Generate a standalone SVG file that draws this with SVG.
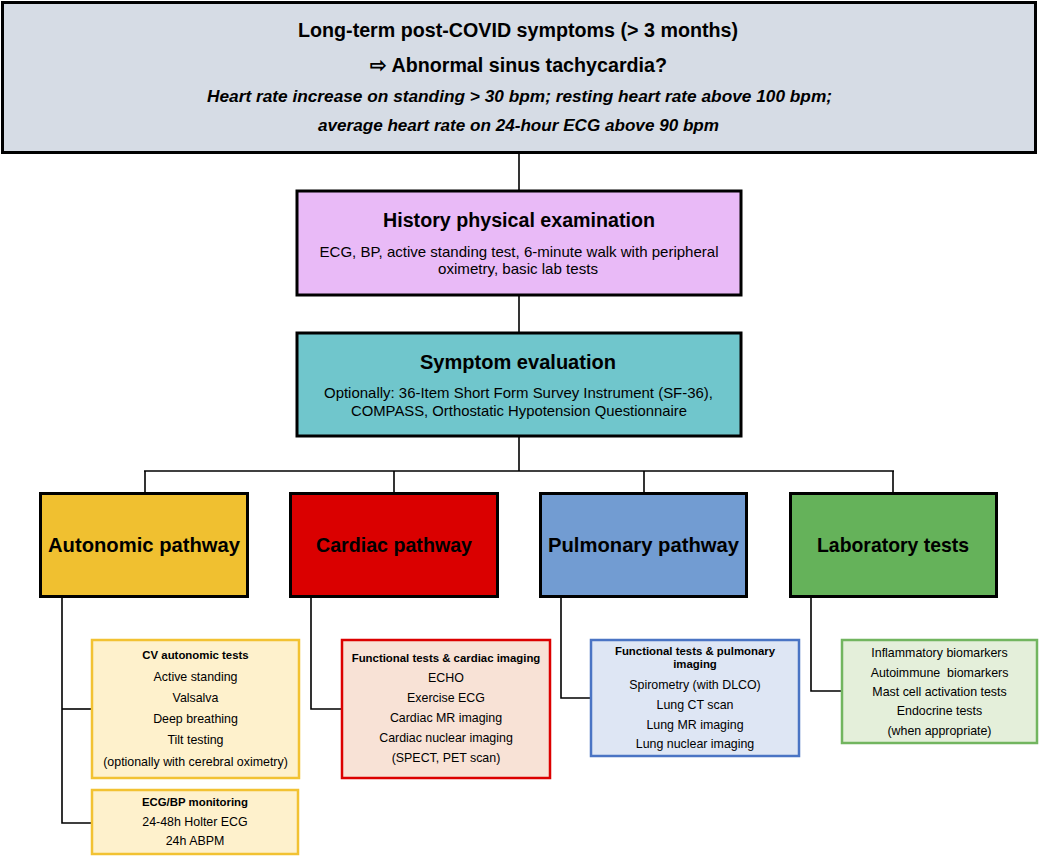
<svg xmlns="http://www.w3.org/2000/svg" width="1050" height="858" viewBox="0 0 1050 858">
<style>
  text { font-family: "Liberation Sans", Arial, sans-serif; fill: #000; text-anchor: middle; }
  .main { stroke: #000; stroke-width: 3; }
  .conn { stroke: #000; stroke-width: 1.6; fill: none; }
  .h1 { font-size: 20px; font-weight: bold; }
  .it { font-size: 17px; font-weight: bold; font-style: italic; }
  .h2 { font-size: 20px; font-weight: bold; }
  .sub { font-size: 15px; }
  .path { font-size: 20.5px; font-weight: bold; }
  .sb { font-size: 11.4px; font-weight: bold; }
  .s { font-size: 12.4px; }
  .small { stroke-width: 2.5; }
</style>
<rect width="1050" height="858" fill="#ffffff"/>
<g id="connectors">
  <line class="conn" x1="519" y1="153" x2="519" y2="191"/>
  <line class="conn" x1="519" y1="295" x2="519" y2="333"/>
  <line class="conn" x1="519" y1="436" x2="519" y2="471"/>
  <line class="conn" x1="144" y1="471" x2="894" y2="471"/>
  <line class="conn" x1="145" y1="471" x2="145" y2="493"/>
  <line class="conn" x1="394" y1="471" x2="394" y2="493"/>
  <line class="conn" x1="644" y1="471" x2="644" y2="493"/>
  <line class="conn" x1="893" y1="471" x2="893" y2="493"/>
  <polyline class="conn" points="62,597 62,823 92,823"/>
  <line class="conn" x1="62" y1="709" x2="92" y2="709"/>
  <polyline class="conn" points="311,597 311,709 342,709"/>
  <polyline class="conn" points="561,597 561,698 591,698"/>
  <polyline class="conn" points="811,597 811,691 842,691"/>
</g>
<g id="top">
  <rect class="main" x="2.5" y="2.5" width="1033" height="150" fill="#d6dce5"/>
  <text class="h1" x="518" y="37" textLength="440" lengthAdjust="spacingAndGlyphs">Long-term post-COVID symptoms (&gt; 3 months)</text>
  <text class="h1" x="518.5" y="72" textLength="297" lengthAdjust="spacingAndGlyphs">⇨ Abnormal sinus tachycardia?</text>
  <text class="it" x="519.5" y="102" textLength="625" lengthAdjust="spacingAndGlyphs">Heart rate increase on standing &gt; 30 bpm; resting heart rate above 100 bpm;</text>
  <text class="it" x="518.5" y="131" textLength="401" lengthAdjust="spacingAndGlyphs">average heart rate on 24-hour ECG above 90 bpm</text>
</g>
<g id="history">
  <rect class="main" x="297" y="191" width="444" height="104" fill="#e9baf7"/>
  <text class="h2" x="519" y="227" textLength="272" lengthAdjust="spacingAndGlyphs">History physical examination</text>
  <text class="sub" x="519" y="257" textLength="399" lengthAdjust="spacingAndGlyphs">ECG, BP, active standing test, 6-minute walk with peripheral</text>
  <text class="sub" x="518" y="274" textLength="160" lengthAdjust="spacingAndGlyphs">oximetry, basic lab tests</text>
</g>
<g id="symptom">
  <rect class="main" x="297" y="333" width="444" height="103" fill="#70c6cc"/>
  <text class="h2" x="518" y="369" textLength="196" lengthAdjust="spacingAndGlyphs">Symptom evaluation</text>
  <text class="sub" x="518.5" y="398" textLength="389" lengthAdjust="spacingAndGlyphs">Optionally: 36-Item Short Form Survey Instrument (SF-36),</text>
  <text class="sub" x="519" y="416" textLength="336" lengthAdjust="spacingAndGlyphs">COMPASS, Orthostatic Hypotension Questionnaire</text>
</g>
<g id="autonomic">
  <rect class="main" x="40.5" y="493.5" width="207" height="103" fill="#f0c030"/>
  <text class="path" x="144" y="552" textLength="192" lengthAdjust="spacingAndGlyphs">Autonomic pathway</text>
</g>
<g id="cardiac">
  <rect class="main" x="290.5" y="493.5" width="207" height="103" fill="#da0000"/>
  <text class="path" x="394" y="552" textLength="156" lengthAdjust="spacingAndGlyphs">Cardiac pathway</text>
</g>
<g id="pulmonary">
  <rect class="main" x="540.5" y="493.5" width="206" height="103" fill="#729cd2"/>
  <text class="path" x="643.5" y="552" textLength="191" lengthAdjust="spacingAndGlyphs">Pulmonary pathway</text>
</g>
<g id="laboratory">
  <rect class="main" x="790.5" y="493.5" width="206" height="103" fill="#65b25a"/>
  <text class="path" x="893" y="552" textLength="152" lengthAdjust="spacingAndGlyphs">Laboratory tests</text>
</g>
<g id="cv-autonomic-tests">
  <rect class="small" x="92" y="640" width="207" height="138" fill="#fef1cc" stroke="#f2c232"/>
  <text class="sb" x="195.5" y="659">CV autonomic tests</text>
  <text class="s" x="195.5" y="681">Active standing</text>
  <text class="s" x="195.5" y="702">Valsalva</text>
  <text class="s" x="195.5" y="723">Deep breathing</text>
  <text class="s" x="195.5" y="744">Tilt testing</text>
  <text class="s" x="195.5" y="766">(optionally with cerebral oximetry)</text>
</g>
<g id="ecg-bp-monitoring">
  <rect class="small" x="92" y="790" width="206" height="64" fill="#fef1cc" stroke="#f2c232"/>
  <text class="sb" x="195" y="806">ECG/BP monitoring</text>
  <text class="s" x="195" y="826">24-48h Holter ECG</text>
  <text class="s" x="195" y="845">24h ABPM</text>
</g>
<g id="cardiac-tests">
  <rect class="small" x="342" y="640" width="208" height="138" fill="#f8e2d6" stroke="#dc0000"/>
  <text class="sb" x="446" y="662">Functional tests &amp; cardiac imaging</text>
  <text class="s" x="446" y="682">ECHO</text>
  <text class="s" x="446" y="702">Exercise ECG</text>
  <text class="s" x="446" y="722">Cardiac MR imaging</text>
  <text class="s" x="446" y="742">Cardiac nuclear imaging</text>
  <text class="s" x="446" y="762">(SPECT, PET scan)</text>
</g>
<g id="pulmonary-tests">
  <rect class="small" x="591" y="640" width="208" height="116" fill="#dee6f4" stroke="#4a74c4"/>
  <text class="sb" x="695" y="655">Functional tests &amp; pulmonary</text>
  <text class="sb" x="695" y="668">imaging</text>
  <text class="s" x="695" y="689">Spirometry (with DLCO)</text>
  <text class="s" x="695" y="709">Lung CT scan</text>
  <text class="s" x="695" y="729">Lung MR imaging</text>
  <text class="s" x="695" y="748">Lung nuclear imaging</text>
</g>
<g id="lab-tests">
  <rect class="small" x="842" y="640" width="195" height="103" fill="#e4efda" stroke="#72b55f"/>
  <text class="s" x="939.5" y="657">Inflammatory biomarkers</text>
  <text class="s" x="939.5" y="677" xml:space="preserve">Autoimmune  biomarkers</text>
  <text class="s" x="939.5" y="696">Mast cell activation tests</text>
  <text class="s" x="939.5" y="715">Endocrine tests</text>
  <text class="s" x="939.5" y="735">(when appropriate)</text>
</g>
</svg>
